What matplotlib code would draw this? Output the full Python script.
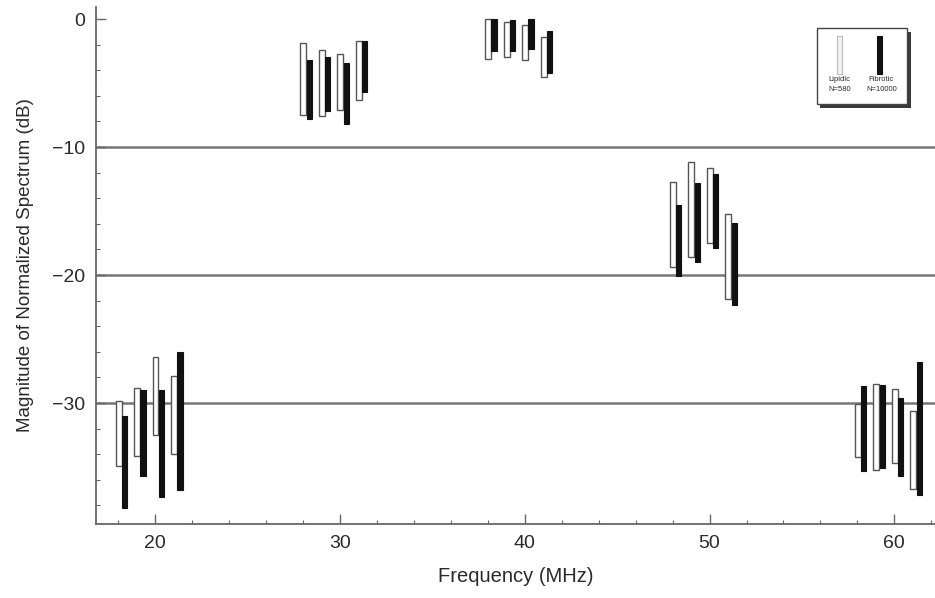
import matplotlib
matplotlib.use("Agg")
import matplotlib.pyplot as plt
from matplotlib.patches import Rectangle
from matplotlib.ticker import MultipleLocator
import numpy as np

plt.rcParams['font.family'] = ['Liberation Sans', 'DejaVu Sans']

# Centre frequencies of the measured bands (MHz)
freqs = np.array([18, 19, 20, 21,
                  28, 29, 30, 31,
                  38, 39, 40, 41,
                  48, 49, 50, 51,
                  58, 59, 60, 61], dtype=float)

# Lipidic tissue: range of normalized spectrum magnitude (dB)
lipidic_top = np.array([-29.8, -28.8, -26.4, -27.9,
                        -1.9, -2.4, -2.7, -1.7,
                        0.0, -0.2, -0.5, -1.4,
                        -12.7, -11.2, -11.6, -15.2,
                        -30.1, -28.5, -28.9, -30.6])
lipidic_bottom = np.array([-34.9, -34.1, -32.5, -34.0,
                           -7.5, -7.6, -7.1, -6.3,
                           -3.1, -3.0, -3.2, -4.5,
                           -19.4, -18.6, -17.5, -21.9,
                           -34.2, -35.2, -34.7, -36.7])

# Fibrotic tissue: range of normalized spectrum magnitude (dB)
fibrotic_top = np.array([-31.0, -29.0, -29.0, -26.0,
                         -3.2, -3.0, -3.4, -1.7,
                         0.0, -0.1, 0.0, -0.9,
                         -14.5, -12.8, -12.1, -15.9,
                         -28.7, -28.6, -29.6, -26.8])
fibrotic_bottom = np.array([-38.2, -35.7, -37.3, -36.8,
                            -7.8, -7.2, -8.2, -5.7,
                            -2.5, -2.5, -2.3, -4.2,
                            -20.1, -19.0, -17.9, -22.3,
                            -35.3, -35.1, -35.7, -37.2])

legend_labels = ["Lipidic\nN=580", "Fibrotic\nN=10000"]
x_ticks = [20, 30, 40, 50, 60]
y_ticks = [0, -10, -20, -30]

text_color = '#2a2a2a'
axis_color = '#666666'

fig = plt.figure(figsize=(9.35, 5.98), dpi=100)
ax = fig.add_axes([0.1027, 0.1237, 0.8973, 0.8645])

# horizontal reference lines
for y in [-10, -20, -30]:
    ax.axhline(y, color='#767676', lw=1.8, zorder=1)

# range bars: open for lipidic, solid for fibrotic
ax.bar(freqs + 0.02, lipidic_top - lipidic_bottom, bottom=lipidic_bottom,
       width=0.32, facecolor='white', edgecolor='#555555', linewidth=1.0,
       zorder=2)
ax.bar(freqs + 0.34, fibrotic_top - fibrotic_bottom, bottom=fibrotic_bottom,
       width=0.28, facecolor='#111111', edgecolor='#111111', linewidth=0.8,
       zorder=3)

ax.set_xlim(16.8, 62.2)
ax.set_ylim(-39.45, 0.94)

ax.set_xticks(x_ticks)
ax.set_yticks(y_ticks)
ax.xaxis.set_minor_locator(MultipleLocator(2))
ax.yaxis.set_minor_locator(MultipleLocator(2))
ax.tick_params(which='major', direction='in', length=7, width=1.0,
               color=axis_color, labelcolor=text_color, labelsize=14, pad=8)
ax.tick_params(which='minor', direction='in', length=3, width=0.8,
               color=axis_color)

for side in ['top', 'right']:
    ax.spines[side].set_visible(False)
for side in ['left', 'bottom']:
    ax.spines[side].set_color(axis_color)
    ax.spines[side].set_linewidth(1.3)

ax.set_xlabel("Frequency (MHz)", fontsize=14.5, color=text_color, labelpad=11)
ax.set_ylabel("Magnitude of Normalized Spectrum (dB)", fontsize=13.5,
              color=text_color, labelpad=13)

# boxed key with drop shadow
tr = ax.transAxes
bx0, by0, bw, bh = 0.859, 0.812, 0.108, 0.147
ax.add_patch(Rectangle((bx0 + 0.004, by0 - 0.008), bw, bh, transform=tr,
                       facecolor='#3a3a3a', edgecolor='none', zorder=5,
                       clip_on=False))
ax.add_patch(Rectangle((bx0, by0), bw, bh, transform=tr,
                       facecolor='white', edgecolor='#444444', lw=1.0,
                       zorder=6, clip_on=False))
ax.add_patch(Rectangle((0.883, 0.870), 0.006, 0.074, transform=tr,
                       facecolor='#f2f2f2', edgecolor='#bbbbbb', lw=0.8,
                       zorder=7))
ax.add_patch(Rectangle((0.931, 0.870), 0.006, 0.074, transform=tr,
                       facecolor='#111111', edgecolor='#111111', lw=0.8,
                       zorder=7))
ax.text(0.886, 0.866, legend_labels[0], transform=tr, fontsize=5.5,
        ha='center', va='top', color=text_color, zorder=8, linespacing=1.5)
ax.text(0.936, 0.866, legend_labels[1], transform=tr, fontsize=5.5,
        ha='center', va='top', color=text_color, zorder=8, linespacing=1.5)

fig.savefig("out.png", dpi=100, facecolor='white')
